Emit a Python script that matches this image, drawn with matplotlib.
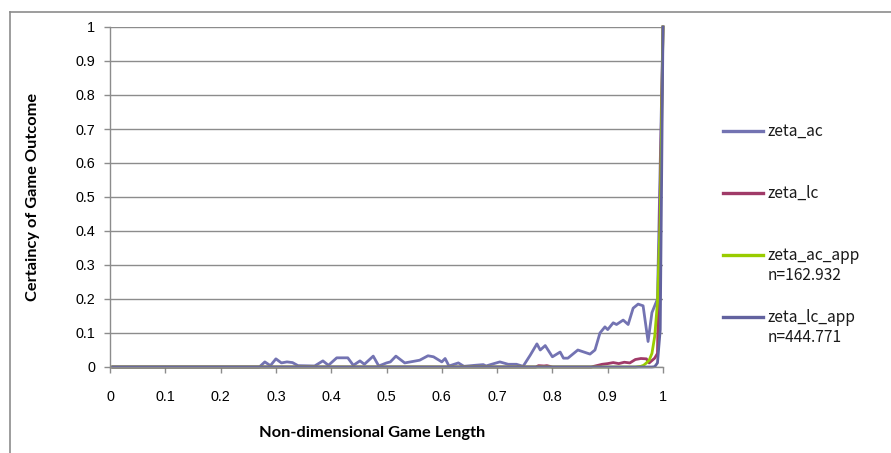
import matplotlib
matplotlib.use("Agg")
import matplotlib.pyplot as plt
from matplotlib.lines import Line2D

# series (x = non-dimensional game length)
ac_x = [0.005, 0.27, 0.28, 0.29, 0.30, 0.31, 0.32, 0.33, 0.34, 0.37, 0.385, 0.395,
        0.41, 0.43, 0.44, 0.452, 0.46, 0.476, 0.486, 0.50, 0.507, 0.517, 0.533,
        0.55, 0.56, 0.575, 0.585, 0.60, 0.606, 0.613, 0.63, 0.64, 0.66, 0.675,
        0.68, 0.69, 0.705, 0.72, 0.735, 0.747, 0.76, 0.772, 0.778, 0.787, 0.80,
        0.814, 0.82, 0.828, 0.846, 0.868, 0.877, 0.886, 0.895, 0.90, 0.91, 0.916,
        0.928, 0.937, 0.946, 0.955, 0.964, 0.973, 0.98, 0.985, 0.99, 1.0]
ac_y = [0, 0, 0.015, 0.004, 0.024, 0.012, 0.015, 0.013, 0.004, 0.003, 0.018, 0.005,
        0.027, 0.027, 0.005, 0.018, 0.008, 0.032, 0.003, 0.012, 0.015, 0.032, 0.012,
        0.017, 0.02, 0.033, 0.03, 0.015, 0.025, 0.003, 0.012, 0.002, 0.005, 0.007,
        0.003, 0.008, 0.015, 0.008, 0.008, 0.002, 0.035, 0.068, 0.05, 0.063, 0.03,
        0.044, 0.026, 0.026, 0.05, 0.038, 0.05, 0.10, 0.118, 0.11, 0.13, 0.125,
        0.138, 0.125, 0.173, 0.185, 0.18, 0.075, 0.16, 0.18, 0.20, 1.0]

lc_x = [0.005, 0.77, 0.775, 0.785, 0.79, 0.80, 0.87, 0.88, 0.89, 0.90, 0.91, 0.92,
        0.93, 0.94, 0.95, 0.96, 0.97, 0.975, 0.985, 0.99, 1.0]
lc_y = [0, 0, 0.004, 0.003, 0.004, 0, 0, 0.004, 0.008, 0.01, 0.013, 0.01,
        0.014, 0.012, 0.022, 0.025, 0.024, 0.012, 0.026, 0.04, 1.0]

ac_app_x = [0.005, 0.95, 0.96, 0.965, 0.97, 0.975, 0.98, 0.985, 0.99, 0.995, 1.0]
ac_app_y = [0, 0, 0.002, 0.005, 0.012, 0.02, 0.04, 0.09, 0.19, 0.44, 1.0]

lc_app_x = [0.005, 0.98, 0.985, 0.99, 0.995, 1.0]
lc_app_y = [0, 0, 0.001, 0.012, 0.11, 1.0]

labels = ["zeta_ac", "zeta_lc", "zeta_ac_app\nn=162.932", "zeta_lc_app\nn=444.771"]
colors = ["#7373B2", "#A03A68", "#99CC00", "#62629F"]

W, H = 891, 453
fig = plt.figure(figsize=(W / 100, H / 100), dpi=100)

def fx(px):
    return px / W

def fy(py):
    return 1 - py / H

# outer chart border (clipped by the image on the right and bottom)
fig.add_artist(Line2D([fx(10), fx(10)], [fy(12), -0.1], color="#8C8C8C", lw=1.2))
fig.add_artist(Line2D([fx(10), 1.1], [fy(12), fy(12)], color="#8C8C8C", lw=1.2))

ax = fig.add_axes([fx(110), fy(367), fx(663) - fx(110), fy(27) - fy(367)])

grid_c = "#8C8C8C"
ax.set_xlim(0, 1)
ax.set_ylim(0, 1)
ax.set_xticks([i / 10 for i in range(11)])
ax.set_yticks([i / 10 for i in range(11)])
ax.set_xticklabels(["0", "0.1", "0.2", "0.3", "0.4", "0.5", "0.6", "0.7", "0.8", "0.9", "1"])
ax.set_yticklabels(["0", "0.1", "0.2", "0.3", "0.4", "0.5", "0.6", "0.7", "0.8", "0.9", "1"])
ax.yaxis.grid(True, color=grid_c, lw=1.0)
ax.set_axisbelow(True)
for s in ["top", "right"]:
    ax.spines[s].set_visible(False)
for s in ["left", "bottom"]:
    ax.spines[s].set_color(grid_c)
    ax.spines[s].set_linewidth(1.0)
ax.tick_params(axis="both", color=grid_c, length=4.5, width=1.0,
               labelsize=10.4, labelcolor="black")
ax.tick_params(axis="x", pad=12)
ax.tick_params(axis="y", pad=6)
for t in ax.get_xticklabels() + ax.get_yticklabels():
    t.set_family("Liberation Sans")

series = [(ac_x, ac_y), (lc_x, lc_y), (ac_app_x, ac_app_y), (lc_app_x, lc_app_y)]
for (xs, ys), c in zip(series, colors):
    ax.plot(xs, ys, color=c, lw=2.0, clip_on=False, solid_joinstyle="round")

ax.set_xlabel("Non-dimensional Game Length", family="Lato", weight="bold",
              fontsize=11.8)
fig.text(fx(33), fy(197), "Certaincy of Game Outcome", family="Lato", weight="bold",
         fontsize=11.8, rotation=90, ha="center", va="center")
ax.xaxis.set_label_coords((372 - 110) / (663 - 110), (367 - 433) / 340)
ax.xaxis.label.set_va("center")

# legend drawn by hand, Excel style on the right
leg_y = [131, 193, 255, 317]
for lab, c, y in zip(labels, colors, leg_y):
    fig.add_artist(Line2D([fx(723), fx(763)], [fy(y), fy(y)], color=c, lw=2.4))
    for k, line in enumerate(lab.split("\n")):
        fig.text(fx(768), fy(y + 20 * k), line, family=["Noto Sans CJK JP", "DejaVu Sans"],
                 fontsize=11.2, ha="left", va="center", color="#1A1A1A")

fig.savefig("out.png", dpi=100)
